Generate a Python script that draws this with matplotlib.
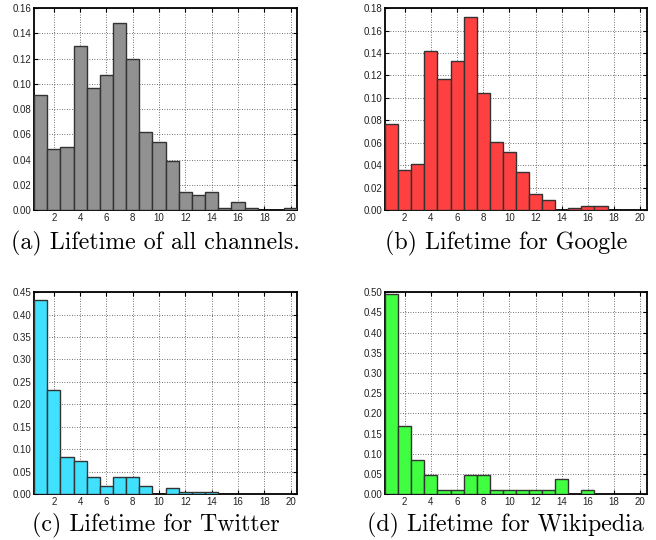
import matplotlib
matplotlib.use("Agg")
import matplotlib.pyplot as plt

# lifetime bins (1..20) and the fraction of items in each
lifetime = list(range(1, 21))

all_channels = [0.091, 0.048, 0.050, 0.130, 0.097, 0.107, 0.148, 0.120, 0.062, 0.054,
                0.039, 0.014, 0.012, 0.014, 0.002, 0.006, 0.002, 0.0, 0.0, 0.002]
google = [0.077, 0.036, 0.041, 0.142, 0.117, 0.133, 0.172, 0.104, 0.061, 0.052,
          0.034, 0.014, 0.009, 0.0, 0.002, 0.004, 0.004, 0.0, 0.0, 0.0]
twitter = [0.433, 0.233, 0.082, 0.074, 0.039, 0.017, 0.039, 0.039, 0.017, 0.0,
           0.013, 0.004, 0.004, 0.004, 0.0, 0.0, 0.0, 0.0, 0.0, 0.0]
wikipedia = [0.495, 0.168, 0.084, 0.047, 0.009, 0.009, 0.047, 0.047, 0.009, 0.009,
             0.009, 0.009, 0.009, 0.037, 0.0, 0.009, 0.0, 0.0, 0.0, 0.0]

captions = ["(a) Lifetime of all channels.", "(b) Lifetime for Google",
            "(c) Lifetime for Twitter", "(d) Lifetime for Wikipedia"]
y_tops = [0.16, 0.18, 0.45, 0.50]
y_steps = [0.02, 0.02, 0.05, 0.05]
colors = ["#919191", "#ff4040", "#40e0ff", "#40ff40"]
series = [all_channels, google, twitter, wikipedia]

fig = plt.figure(figsize=(6.56, 5.40), dpi=100)

# axes rectangles in figure fractions
boxes = [
    [0.052, 0.611, 0.401, 0.374],
    [0.587, 0.611, 0.399, 0.374],
    [0.052, 0.085, 0.401, 0.374],
    [0.587, 0.085, 0.399, 0.374],
]
caption_pos = [(155 / 656, 1 - 243 / 540), (506 / 656, 1 - 243 / 540),
               (156 / 656, 1 - 525 / 540), (505 / 656, 1 - 525 / 540)]

for i in range(4):
    ax = fig.add_axes(boxes[i])
    # empty bins get no outline
    lws = [1.0 if v > 0 else 0 for v in series[i]]
    ax.bar(lifetime, series[i], width=1.0, color=colors[i],
           edgecolor="#333333", linewidth=lws, zorder=3)
    ax.set_xlim(0.5, 20.5)
    ax.set_ylim(0, y_tops[i])
    ax.set_xticks(range(2, 21, 2))
    n = int(round(y_tops[i] / y_steps[i]))
    ax.set_yticks([k * y_steps[i] for k in range(n + 1)])
    ax.set_yticklabels(["%.2f" % (k * y_steps[i]) for k in range(n + 1)])
    ax.grid(True, color="#444444", linestyle=(0, (1, 2)), linewidth=0.6, zorder=1)
    ax.tick_params(direction="in", top=True, right=True, length=3, width=0.8,
                   labelsize=7, pad=2, colors="black")
    for lab in ax.get_xticklabels() + ax.get_yticklabels():
        lab.set_family("Liberation Sans")
        lab.set_color("#222222")
    for sp in ax.spines.values():
        sp.set_linewidth(1.3)
    fig.text(caption_pos[i][0], caption_pos[i][1], captions[i], family="cmr10",
             fontsize=17.2, ha="center", va="center")

fig.savefig("out.png", dpi=100)
